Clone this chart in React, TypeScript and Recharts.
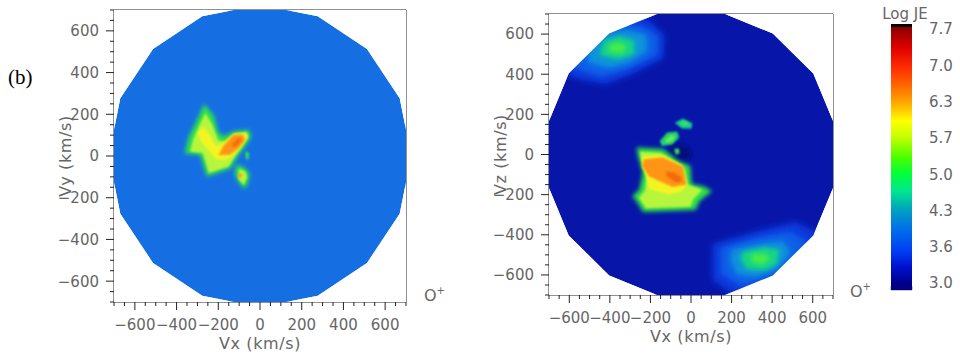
import React from 'react';
import { ScatterChart, Scatter, XAxis, YAxis, ReferenceLine, ReferenceArea, BarChart, Bar, Label } from 'recharts';

// ---------- axis ticks ----------
const AXIS_DOMAIN: [number, number] = [-700, 700];
const TICKS_50 = [-700, -650, -600, -550, -500, -450, -400, -350, -300, -250, -200, -150, -100, -50, 0, 50, 100, 150, 200, 250, 300, 350, 400, 450, 500, 550, 600, 650, 700];
const MAJOR_TICK_VALUES = [-600, -400, -200, 0, 200, 400, 600];
const MAJOR_TICK_LABELS = ['\u2212600', '\u2212400', '\u2212200', '0', '200', '400', '600'];

// ---------- measurement discs (16-gons) ----------
const LEFT_DISC = [[725, 0], [670, 277], [513, 513], [277, 670], [0, 725], [-277, 670], [-513, 513], [-670, 277], [-725, 0], [-670, -277], [-513, -513], [-277, -670], [0, -725], [277, -670], [513, -513], [670, -277]];
const RIGHT_DISC = [[711, 141], [603, 403], [403, 603], [141, 711], [-141, 711], [-403, 603], [-603, 403], [-711, 141], [-711, -141], [-603, -403], [-403, -603], [-141, -711], [141, -711], [403, -603], [603, -403], [711, -141]];
const FRAME = [[-760, -760], [760, -760], [760, 760], [-760, 760]];

// ---------- left panel (Vx-Vy) flux regions ----------
const L_GREEN = [[-268, 250], [-221, 193], [-200, 113], [-173, 94], [-128, 118], [-54, 126], [-42, 92], [-78, 37], [-107, 0], [-142, -60], [-255, -98], [-277, -27], [-286, 5], [-362, 13], [-341, 94], [-305, 166]];
const L_LIME = [[-262, 205], [-228, 150], [-200, 75], [-168, 70], [-120, 108], [-62, 114], [-55, 90], [-88, 40], [-118, 0], [-150, -50], [-245, -82], [-262, -25], [-275, 15], [-335, 22], [-320, 80], [-292, 145]];
const L_YELLOW = [[-272, 140], [-240, 100], [-210, 45], [-172, 66], [-128, 104], [-72, 110], [-62, 88], [-96, 43], [-128, 6], [-165, -20], [-215, -14], [-245, 25], [-282, 70], [-300, 110]];
const L_ORANGE = [[-178, 45], [-130, 100], [-84, 104], [-70, 78], [-100, 40], [-144, 6], [-198, 4]];
const L_RED = [[-136, 54], [-104, 86], [-90, 86], [-96, 62], [-124, 40]];
const L_LOW_GREEN = [[-112, -40], [-72, -58], [-50, -85], [-58, -130], [-74, -158], [-100, -130], [-122, -85]];
const L_LOW_LIME = [[-100, -62], [-70, -75], [-62, -102], [-78, -138], [-104, -110]];
const L_LOW_ORANGE = [[-100, -82], [-86, -88], [-90, -106], [-104, -100]];
const L_DOT = [[-68, 22], [-52, 16], [-54, -10], [-62, -22], [-70, 0]];

// ---------- right panel (Vx-Vz) flux regions ----------
const U1 = [[-650, 420], [-560, 375], [-420, 350], [-300, 395], [-135, 478], [-130, 592], [-200, 665], [-400, 730], [-620, 600]];
const U2 = [[-580, 430], [-440, 385], [-310, 425], [-165, 495], [-160, 590], [-240, 640], [-420, 665], [-560, 540]];
const U3 = [[-510, 460], [-400, 430], [-300, 460], [-215, 515], [-220, 595], [-320, 620], [-450, 600], [-500, 530]];
const U4 = [[-450, 495], [-360, 475], [-280, 500], [-280, 565], [-350, 590], [-430, 565]];
const U5 = [[-405, 510], [-340, 505], [-315, 540], [-360, 560], [-400, 545]];
const D1 = [[105, -445], [330, -380], [515, -335], [650, -400], [600, -565], [420, -650], [245, -725], [105, -625]];
const D2 = [[145, -465], [330, -412], [485, -382], [570, -430], [525, -545], [400, -610], [255, -660], [145, -595]];
const D3 = [[200, -475], [340, -445], [455, -432], [490, -490], [425, -575], [320, -610], [225, -598], [195, -530]];
const D4 = [[255, -485], [360, -462], [435, -475], [425, -545], [360, -578], [275, -570], [245, -520]];
const D5 = [[298, -498], [362, -492], [392, -520], [350, -548], [298, -536]];
const R_HOLE = [[-110, 35], [-60, 55], [-15, 40], [5, 5], [-15, -30], [-60, -35], [-100, -10]];
const R_GREEN = [[-268, 35], [-138, 27], [-105, 2], [-64, -31], [-4, -56], [3, -147], [62, -158], [104, -183], [42, -232], [22, -277], [-236, -287], [-270, -230], [-290, -208], [-254, -174], [-238, -91], [-262, -8]];
const R_LIME = [[-252, 14], [-150, 8], [-100, -22], [-32, -66], [-16, -150], [55, -176], [12, -222], [-3, -260], [-222, -268], [-257, -215], [-227, -180], [-217, -100], [-244, -30]];
const R_YELLOW = [[-240, -12], [-140, -4], [-46, -52], [-20, -148], [-46, -184], [-110, -200], [-206, -172], [-222, -110], [-240, -60]];
const R_ORANGE = [[-232, -24], [-140, -14], [-40, -60], [-22, -150], [-90, -162], [-206, -110], [-242, -58]];
const R_RED = [[-125, -85], [-85, -90], [-50, -112], [-46, -136], [-78, -138], [-118, -108]];
const B1_OUT = [[-80, 158], [-40, 180], [7, 156], [2, 128], [-45, 130]];
const B1_IN = [[-55, 160], [-25, 166], [-10, 148], [-40, 142]];
const B2_OUT = [[-154, 68], [-118, 110], [-68, 114], [-58, 85], [-92, 50], [-144, 43]];
const B2_IN = [[-128, 72], [-100, 96], [-78, 92], [-90, 66], [-122, 58]];
const B3 = [[-84, 26], [-62, 32], [-55, 8], [-74, -2]];

// ---------- colour bar ----------
const CB_LABELS = ['3.0', '3.6', '4.3', '5.0', '5.7', '6.3', '7.0', '7.7'];
const CB_TICKS = [0, 1, 2, 3, 4, 5, 6, 7];
const CB_LO = -0.193;
const CB_HI = 7.138;
const CB_DATA = [{ name: 'Log JE', range: [CB_LO, CB_HI] }];
const CB_STOPS: [number, string][] = [
  [0, '#000000'], [0.011, '#000000'], [0.013, '#8c0000'], [0.09, '#e00000'], [0.161, '#ff2a00'],
  [0.243, '#ff7200'], [0.303, '#ffb000'], [0.364, '#ffff00'], [0.425, '#c4ff00'], [0.506, '#44ff00'],
  [0.567, '#00ff40'], [0.628, '#00e68e'], [0.699, '#00a0c0'], [0.77, '#0070e8'], [0.852, '#0040f4'],
  [0.913, '#0010d0'], [0.975, '#00008c'], [1, '#000080'],
];

// ---------- colours ----------
const LEFT_BG = '#156fe3';
const RIGHT_BG = '#0716a8';
const GREEN = '#2de34a';
const LIME = '#b8f53c';
const YELLOW = '#f2f524';
const ORANGE = '#ff9414';
const RED = '#f26a10';
const TXT = '#666666';
const FONT = 'DejaVu Sans';

type Layer = { pts: number[][]; fill: string; blur?: string };

const LEFT_LAYERS: Layer[] = [
  { pts: L_GREEN, fill: GREEN, blur: 'b2' },
  { pts: L_LOW_GREEN, fill: GREEN, blur: 'b2' },
  { pts: L_DOT, fill: GREEN, blur: 'b1' },
  { pts: L_LIME, fill: LIME, blur: 'b1' },
  { pts: L_LOW_LIME, fill: LIME, blur: 'b1' },
  { pts: L_YELLOW, fill: YELLOW, blur: 'b1' },
  { pts: L_ORANGE, fill: ORANGE, blur: 'b1' },
  { pts: L_LOW_ORANGE, fill: ORANGE, blur: 'b1' },
  { pts: L_RED, fill: RED, blur: 'b1' },
];

const RIGHT_LAYERS: Layer[] = [
  { pts: U1, fill: '#0838dc', blur: 'b3' },
  { pts: U2, fill: '#0a5ee8', blur: 'b3' },
  { pts: U3, fill: '#0a96d8', blur: 'b3' },
  { pts: U4, fill: '#14d484', blur: 'b2' },
  { pts: U5, fill: '#44ec48', blur: 'b2' },
  { pts: D1, fill: '#0838dc', blur: 'b3' },
  { pts: D2, fill: '#0a5ee8', blur: 'b3' },
  { pts: D3, fill: '#0a96d8', blur: 'b3' },
  { pts: D4, fill: '#14d484', blur: 'b2' },
  { pts: D5, fill: '#44ec48', blur: 'b2' },
  { pts: R_HOLE, fill: '#020c7c', blur: 'b2' },
  { pts: R_GREEN, fill: GREEN, blur: 'b2' },
  { pts: R_LIME, fill: LIME, blur: 'b1' },
  { pts: R_YELLOW, fill: YELLOW, blur: 'b1' },
  { pts: R_ORANGE, fill: ORANGE, blur: 'b1' },
  { pts: R_RED, fill: RED, blur: 'b1' },
  { pts: B1_OUT, fill: '#18c890', blur: 'b1' },
  { pts: B1_IN, fill: '#40e060', blur: 'b1' },
  { pts: B2_OUT, fill: '#20d070', blur: 'b1' },
  { pts: B2_IN, fill: '#64f050', blur: 'b1' },
  { pts: B3, fill: '#30e060', blur: 'b1' },
];

type Pt = { x: number; y: number };
const toData = (a: number[][]) => a.map(([x, y]) => ({ x, y }));
const pathD = (pts: Pt[]) => pts.map((p, i) => `${i ? 'L' : 'M'}${p.x.toFixed(1)},${p.y.toFixed(1)}`).join('') + 'Z';
const NoDot = () => <g />;

function polySeries(key: string, pts: number[][], fill: string, filter?: string, extra?: React.ReactNode) {
  return (
    <Scatter
      key={key}
      xAxisId="b"
      yAxisId="l"
      data={toData(pts)}
      isAnimationActive={false}
      legendType="none"
      shape={NoDot}
      line={(p: any) => (
        <g>
          {extra}
          <path d={pathD(p.points)} fill={fill} stroke="none" filter={filter ? `url(#${filter})` : undefined} />
        </g>
      )}
    />
  );
}

function maskSeries(key: string, frame: number[][], disc: number[][]) {
  const n = frame.length;
  return (
    <Scatter
      key={key}
      xAxisId="b"
      yAxisId="l"
      data={toData([...frame, ...disc])}
      isAnimationActive={false}
      legendType="none"
      shape={NoDot}
      line={(p: any) => (
        <path d={pathD(p.points.slice(0, n)) + pathD(p.points.slice(n))} fill="#ffffff" fillRule="evenodd" stroke="none" />
      )}
    />
  );
}

const tickFor = (side: 'bottom' | 'top' | 'left' | 'right') => (props: any) => {
  const { x, y, payload } = props;
  const v = Number(payload.value);
  const major = Math.abs(v) % 200 === 0;
  const len = major ? 8 : 4;
  const idx = MAJOR_TICK_VALUES.indexOf(v);
  if (side === 'bottom') {
    return (
      <g>
        <line x1={x} x2={x} y1={y} y2={y + len} stroke="#222" />
        {idx >= 0 && (
          <text x={x} y={y + 28} textAnchor="middle" fill={TXT} fontSize={15} fontFamily={FONT}>{MAJOR_TICK_LABELS[idx]}</text>
        )}
      </g>
    );
  }
  if (side === 'top') return <line x1={x} x2={x} y1={y} y2={y - len} stroke="#222" />;
  if (side === 'right') return <line x1={x} x2={x + len} y1={y} y2={y} stroke="#222" />;
  return (
    <g>
      <line x1={x} x2={x - len} y1={y} y2={y} stroke="#222" />
      {idx >= 0 && (
        <text x={x - 15} y={y} dy="0.36em" textAnchor="end" fill={TXT} fontSize={15} fontFamily={FONT}>{MAJOR_TICK_LABELS[idx]}</text>
      )}
    </g>
  );
};

const AXIS_W = 60;
const AXIS_H = 40;

function Panel(props: { uid: string; x0: number; w: number; pl: number; pt: number; pr: number; pb: number; disc: number[][]; bg: string; layers: Layer[]; yTitle: string }) {
  const { uid, x0, w, pl, pt, pr, pb, disc, bg, layers, yTitle } = props;
  const filters = (
    <defs>
      <filter id={`${uid}-b1`} x="-50%" y="-50%" width="200%" height="200%"><feGaussianBlur stdDeviation={1.2} /></filter>
      <filter id={`${uid}-b2`} x="-50%" y="-50%" width="200%" height="200%"><feGaussianBlur stdDeviation={2} /></filter>
      <filter id={`${uid}-b3`} x="-50%" y="-50%" width="200%" height="200%"><feGaussianBlur stdDeviation={3} /></filter>
    </defs>
  );
  const axisCommon = {
    type: 'number' as const,
    domain: AXIS_DOMAIN,
    allowDataOverflow: true,
    ticks: TICKS_50,
    interval: 0 as const,
    tickLine: false,
    tickSize: 0,
    tickMargin: 0,
    axisLine: false,
  };
  return (
    <div style={{ position: 'absolute', left: x0, top: 0 }}>
      <ScatterChart width={w} height={358} margin={{ top: pt, left: pl - AXIS_W, right: w - pr, bottom: 358 - pb - AXIS_H }}>
        <XAxis xAxisId="b" dataKey="x" orientation="bottom" height={AXIS_H} {...axisCommon} tick={tickFor('bottom')}
          label={<Label content={(p: any) => {
            const vb = p.viewBox || {};
            return <text x={vb.x + vb.width / 2} y={vb.y + 47} textAnchor="middle" fill={TXT} fontSize={16} fontFamily={FONT} letterSpacing={0.6}>Vx (km/s)</text>;
          }} />} />
        <XAxis xAxisId="t" dataKey="x" orientation="top" height={0} {...axisCommon} tick={tickFor('top')} />
        <YAxis yAxisId="l" dataKey="y" orientation="left" width={AXIS_W} {...axisCommon} tick={tickFor('left')}
          label={<Label content={(p: any) => {
            const vb = p.viewBox || {};
            const cx = vb.x + vb.width - 49;
            const cy = vb.y + vb.height / 2;
            return <text x={cx} y={cy} dy="0.36em" textAnchor="middle" transform={`rotate(-90 ${cx} ${cy})`} fill={TXT} fontSize={16} fontFamily={FONT} letterSpacing={0.6}>{yTitle}</text>;
          }} />} />
        <YAxis yAxisId="r" dataKey="y" orientation="right" width={0} {...axisCommon} tick={tickFor('right')} />
        {polySeries(`${uid}-disc`, disc, bg, undefined, filters)}
        {layers.map((l, i) => polySeries(`${uid}-l${i}`, l.pts, l.fill, l.blur ? `${uid}-${l.blur}` : undefined))}
        {maskSeries(`${uid}-mask`, FRAME, disc)}
        <ReferenceLine xAxisId="b" yAxisId="l" x={0} stroke="#111" strokeWidth={1} />
        <ReferenceLine xAxisId="b" yAxisId="l" y={0} stroke="#111" strokeWidth={1} />
        <ReferenceArea xAxisId="b" yAxisId="l" x1={-700} x2={700} y1={-700} y2={700} fill="none" fillOpacity={0} stroke="#222" strokeWidth={1} ifOverflow="visible" />
      </ScatterChart>
    </div>
  );
}

const gradShape = (p: any) => (
  <g>
    <defs>
      <linearGradient id="je-grad" x1="0" y1="0" x2="0" y2="1">
        {CB_STOPS.map(([o, c], i) => <stop key={i} offset={o} stopColor={c} />)}
      </linearGradient>
    </defs>
    <rect x={p.x} y={p.y} width={p.width} height={p.height} fill="url(#je-grad)" />
  </g>
);

const cbTick = (props: any) => {
  const { x, y, payload } = props;
  return (
    <text x={x + 17} y={y} dy="0.36em" textAnchor="start" fill={TXT} fontSize={15} fontFamily={FONT}>{CB_LABELS[Number(payload.value)]}</text>
  );
};

export default function App() {
  return (
    <div style={{ position: 'absolute', left: 0, top: 0, width: 960, height: 358, background: '#ffffff', overflow: 'hidden' }}>
      <Panel uid="pl" x0={0} w={440} pl={114} pt={10} pr={406} pb={302} disc={LEFT_DISC} bg={LEFT_BG} layers={LEFT_LAYERS} yTitle="Vy (km/s)" />
      <Panel uid="pr" x0={440} w={430} pl={109} pt={14} pr={393} pb={295} disc={RIGHT_DISC} bg={RIGHT_BG} layers={RIGHT_LAYERS} yTitle="Vz (km/s)" />
      <div style={{ position: 'absolute', left: 880, top: 0 }}>
        <BarChart width={80} height={300} data={CB_DATA} margin={{ top: 24, bottom: 10, left: 11, right: 0 }} barCategoryGap={0}>
          <XAxis dataKey="name" hide />
          <YAxis orientation="right" width={48} type="number" domain={[CB_LO, CB_HI]} allowDataOverflow ticks={CB_TICKS} interval={0}
            tickLine={false} axisLine={false} tickSize={0} tickMargin={0} tick={cbTick} />
          <Bar dataKey="range" isAnimationActive={false} shape={gradShape} />
          <ReferenceArea y1={CB_LO} y2={CB_LO + 0.11} fill="#ffffff" fillOpacity={1} stroke="#9a9a9a" strokeWidth={1} ifOverflow="visible" />
        </BarChart>
      </div>
      <svg width={960} height={358} style={{ position: 'absolute', left: 0, top: 0, pointerEvents: 'none' }}>
        <text x={8} y={84} fontFamily="Liberation Serif" fontSize={21} fill="#000">(b)</text>
        <text x={424} y={301} fontFamily={FONT} fontSize={16} fill={TXT}>O<tspan fontSize={10} dy={-7}>+</tspan></text>
        <text x={850} y={297} fontFamily={FONT} fontSize={16} fill={TXT}>O<tspan fontSize={10} dy={-7}>+</tspan></text>
        <text x={905} y={19} textAnchor="middle" fontFamily={FONT} fontSize={15} fill={TXT}>Log JE</text>
      </svg>
    </div>
  );
}
